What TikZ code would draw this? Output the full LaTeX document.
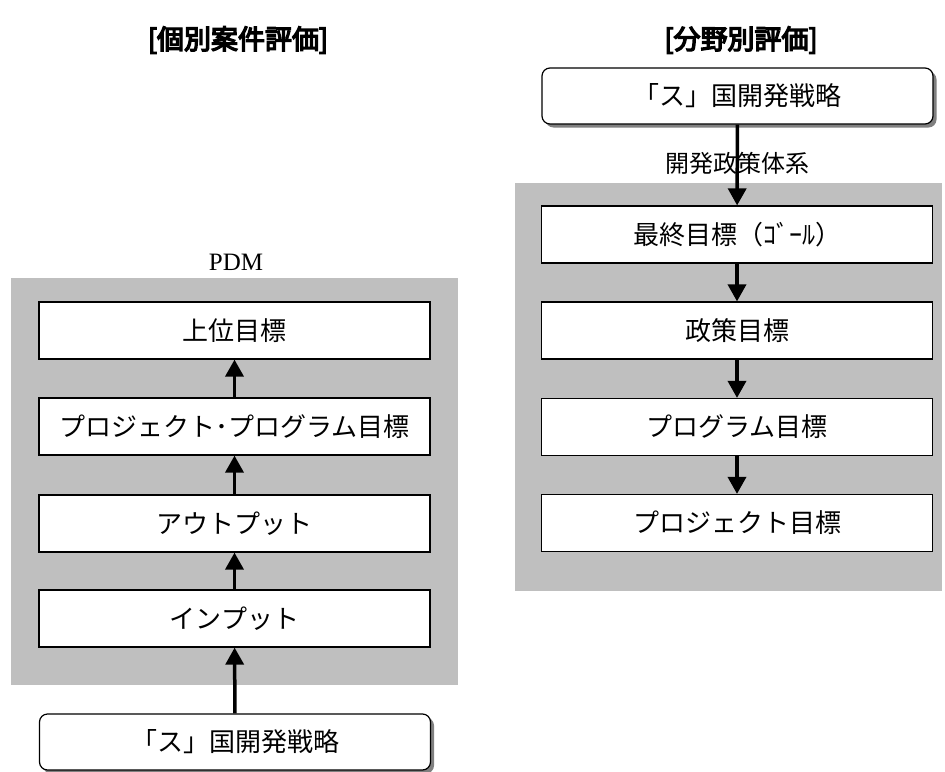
\documentclass[tikz,border=0pt]{standalone}
\usepackage{fontspec}
\setmainfont{Noto Sans CJK JP}
\newfontfamily\titlefont{Noto Sans CJK JP}[FakeBold=5]
\newfontfamily\pdmfont{Liberation Serif}
\usetikzlibrary{arrows.meta,positioning,shadows}
\tikzset{
>={Triangle[width=18pt,length=17pt]},
  mokuhyo/.style={
    rectangle,
    draw=black, line width=1.2pt,
    fill=white,
    minimum width=391pt,
    minimum height=57pt,
    inner sep=0pt,
    font=\fontsize{26}{30}\selectfont},
  senryaku/.style={
    mokuhyo,
    rounded corners=8pt,
    minimum height=56pt,
    drop shadow={shadow xshift=3.5pt, shadow yshift=-3.5pt,
      fill=black!50, opacity=1}},
  flow/.style={draw, line width=3.5pt, ->},
  haikei/.style={fill=black!25, draw=none},
}
\begin{document}
\begin{tikzpicture}[
    x=1pt, y=-1pt,
    midashi/.style={font=\titlefont\fontsize{27}{30}\selectfont},
    every node/.style={color=black}
    ]
    \useasboundingbox (0,0) rectangle (945,771);

    % titles
    \node[midashi] (t-kobetsu) at (238,40) {[個別案件評価]};
    \node[midashi] (t-bunya) at (741,40) {[分野別評価]};

    % grey panels
    \fill[haikei] (11,278) rectangle (458,685);
    \fill[haikei] (515,183) rectangle (942,591);

    % PDM
    \node[font=\pdmfont\fontsize{25}{28}\selectfont] (pdm) at (236,262) {PDM};
    \node[mokuhyo] (joui) at (234.5,330.5) {上位目標};
    \node[mokuhyo] (pp) at (234.5,426.5) {プロジェクト･プログラム目標};
    \node[mokuhyo] (output) at (234.5,523.5) {アウトプット};
    \node[mokuhyo] (input) at (234.5,618.5) {インプット};
    \node[senryaku] (senL) at (235,742) {「ス」国開発戦略};

    \draw[flow] (senL) -- (input);
    \draw[flow] (input) -- (output);
    \draw[flow] (output) -- (pp);
    \draw[flow] (pp) -- (joui);

    % policy system
    \node[senryaku] (senR) at (737.5,96) {「ス」国開発戦略};
    \node[font=\fontsize{24}{28}\selectfont] (taikei) at (737,163) {開発政策体系};
    \node[mokuhyo] (goal) at (737,234.5) {最終目標（ｺﾞｰﾙ）};
    \node[mokuhyo] (seisaku) at (737,330.5) {政策目標};
    \node[mokuhyo] (program) at (737,427) {プログラム目標};
    \node[mokuhyo] (project) at (737,523) {プロジェクト目標};

    \draw[flow] (senR) -- (goal);
    \draw[flow] (goal) -- (seisaku);
    \draw[flow] (seisaku) -- (program);
    \draw[flow] (program) -- (project);

\end{tikzpicture}
\end{document}
